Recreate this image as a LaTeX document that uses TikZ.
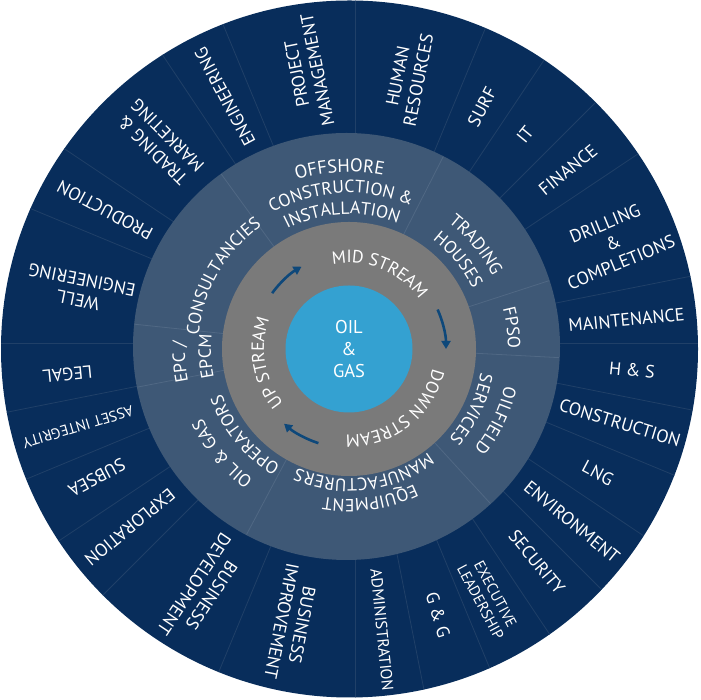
\documentclass[tikz,border=0pt]{standalone}
\usepackage{fontspec}
\setmainfont{PT Sans}
\usetikzlibrary{decorations.text,arrows.meta}
\definecolor{navy}{RGB}{8,45,91}
\definecolor{slate}{RGB}{62,88,118}
\definecolor{ringgray}{RGB}{122,122,122}
\definecolor{oilblue}{RGB}{52,161,209}
\definecolor{sepnavy}{RGB}{32,64,104}
\definecolor{sepslate}{RGB}{80,104,132}
\definecolor{arrowblue}{RGB}{14,72,122}
\newcommand\ringfont{\fontsize{17.7}{17.7}\selectfont\color{white}}
\newcommand\bigringfont{\fontsize{18.5}{18.5}\selectfont\color{white}}
\tikzset{
 olab/.style={text=white, align=center, font=\fontsize{18}{21}\selectfont, inner sep=0pt},
 osmall/.style={olab, font=\fontsize{15}{17}\selectfont},
 cycarrow/.style={draw=arrowblue, line width=2.6pt, -{Triangle[length=8pt,width=9pt]}},
 outsep/.style={draw=sepnavy, line width=0.8pt},
 midsep/.style={draw=sepslate, line width=0.8pt},
 ringtext/.style={decorate, decoration={text along path, text align=center, text={|\ringfont|#1}}},
 bigringtext/.style={decorate, decoration={text along path, text align=center, text={|\bigringfont|#1}}},
}
\newcommand\ringline[3]{\path[ringtext={#3}] ([shift={(#1+70:#2)}]G) arc[start angle=#1+70, end angle=#1-70, radius=#2];}
\begin{document}
\begin{tikzpicture}[x=1pt,y=1pt]
\useasboundingbox (0,0) rectangle (701,700);
\coordinate (O) at (349.5,351);
\coordinate (M) at (346.5,353.5);
\coordinate (G) at (349,351);
\coordinate (S) at (355,357);
% outer ring
\fill[navy] (O) circle[radius=348.5];
\begin{scope}
\clip (O) circle[radius=348.5];
\foreach \k in {0,1,3,4,5,6,8,10,11,13,14,16,17,18,19,20,22,24,25,26,27,28,29,30,31}
  \draw[outsep] (S) -- ++(\k*11.25:420);
\end{scope}
% middle ring
\fill[slate] (M) circle[radius=213.5];
\foreach \a in {126,174,191,242,312.5,357,18,63}
  \draw[midsep] ([shift={(\a:120)}]M) -- ([shift={(\a:213)}]M);
% gray ring and centre
\fill[ringgray] (G) circle[radius=127];
\fill[oilblue] (G) circle[radius=63.5];
\node[olab, font=\fontsize{18.5}{22}\selectfont] (oilgas) at (G) {OIL\\\&\\GAS};
% cycle arrows
\draw[cycarrow] ([shift={(144:95)}]G) arc[start angle=144, end angle=120, radius=95];
\draw[cycarrow] ([shift={(24:97)}]G) arc[start angle=24, end angle=0, radius=97];
\draw[cycarrow] ([shift={(252:99)}]G) arc[start angle=252, end angle=229, radius=99];
% gray ring texts
\ringline{68}{86}{MID STREAM}
\ringline{-52.8}{86}{DOWN STREAM}
\ringline{189.4}{85}{UP STREAM}
% middle ring texts
\path[bigringtext={OFFSHORE}] ([shift={(163:177)}]G) arc[start angle=163, end angle=23, radius=177];
\ringline{93}{156}{CONSTRUCTION {\&}}
\ringline{93}{135}{INSTALLATION}
\ringline{39.4}{161}{TRADING}
\ringline{39.3}{137.5}{HOUSES}
\ringline{7.3}{159}{FPSO}
\ringline{-26}{160}{OILFIELD}
\ringline{-26}{134}{SERVICES}
\ringline{-82}{150}{EQUIPMENT}
\ringline{-83}{130}{MANUFACTURERS}
\ringline{219.5}{162}{OIL {\&} GAS}
\ringline{219.5}{135}{OPERATORS}
\ringline{184.5}{164}{EPC /}
\ringline{183}{138}{EPCM}
\ringline{150}{151}{CONSULTANCIES}
% outer ring labels
\node[olab, rotate=5.625] (maint) at (626.5,380) {MAINTENANCE};
\node[olab, rotate=-5.625] (hs) at (632,330) {H \& S};
\node[olab, rotate=-16.875] (constr) at (620,277) {CONSTRUCTION};
\node[olab, rotate=-28.125] (lng) at (598,227) {LNG};
\node[olab, rotate=-39.375] (env) at (572,178) {ENVIRONMENT};
\node[olab, rotate=-50.625] (sec) at (537,138) {SECURITY};
\node[osmall, rotate=-61.875] (exec) at (488,102) {EXECUTIVE\\LEADERSHIP};
\node[olab, rotate=-73.125] (gg) at (438,85) {G \& G};
\node[olab, font=\fontsize{16}{18}\selectfont, rotate=-84.375] (admin) at (382,70) {ADMINISTRATION};
\node[olab, rotate=-101.25] (bimp) at (292,77) {BUSINESS\\IMPROVEMENT};
\node[olab, rotate=-123.75] (bdev) at (203,110) {BUSINESS\\DEVELOPMENT};
\node[olab, rotate=-140.625] (expl) at (130,173) {EXPLORATION};
\node[olab, rotate=208.125] (subsea) at (97,222) {SUBSEA};
\node[osmall, rotate=196.875] (asset) at (78,273) {ASSET INTEGRITY};
\node[olab, rotate=185.625] (legal) at (67.5,325.5) {LEGAL};
\node[olab, rotate=168.75] (well) at (80,410) {WELL\\ENGINEERING};
\node[olab, rotate=151.875] (prod) at (105,490) {PRODUCTION};
\node[olab, rotate=135] (trade) at (160,557) {TRADING \&\\MARKETING};
\node[olab, rotate=118.125] (eng) at (225,603) {ENGINEERING};
\node[olab, rotate=101.25] (pm) at (307,628) {PROJECT\\MANAGEMENT};
\node[olab, rotate=78.75] (hr) at (408,622) {HUMAN\\RESOURCES};
\node[olab, rotate=61.875] (surf) at (482,593) {SURF};
\node[olab, rotate=50.625] (it) at (525,565) {IT};
\node[olab, rotate=39.375] (fin) at (568,530) {FINANCE};
\node[olab, rotate=22.5] (drill) at (613,457) {DRILLING\\\&\\COMPLETIONS};
\end{tikzpicture}
\end{document}
